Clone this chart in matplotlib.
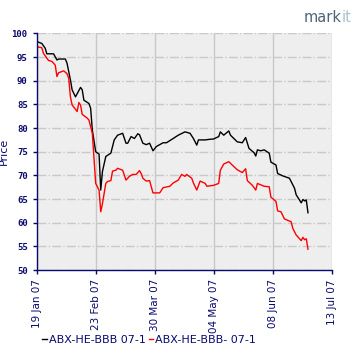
import matplotlib
matplotlib.use("Agg")
import matplotlib.pyplot as plt
import matplotlib.dates as mdates
from matplotlib.transforms import offset_copy
import numpy as np

# day offsets from 19 Jan 2007 and prices
start = np.datetime64("2007-01-19")

blk_days = [0, 3, 5, 6, 10, 12, 13, 17, 18, 20, 21, 23, 26, 27, 28, 31, 32, 33, 35, 37,
            38, 39, 41, 44, 46, 48, 51, 53, 54, 56, 58, 60, 61, 63, 65, 67, 69, 71, 75, 77,
            81, 84, 88, 91, 93, 95, 96, 100, 102, 105, 108, 109, 111, 114, 115, 117, 119,
            122, 124, 126, 129, 130, 131, 133, 135, 138, 139, 142, 143, 146, 150, 153, 154,
            157, 158, 159, 160, 161]
blk_vals = [98.3, 97.9, 96.9, 95.7, 95.7, 94.4, 94.6, 94.6, 93.7, 90.2, 88.1, 86.6, 88.6,
            88.1, 85.9, 85.2, 84.2, 79.6, 75.0, 74.5, 66.9, 70.8, 74.0, 74.7, 77.5, 78.5,
            78.9, 76.8, 76.8, 78.2, 77.8, 78.8, 78.6, 76.8, 76.5, 76.8, 75.2, 76.1, 76.9,
            76.9, 77.8, 78.5, 79.2, 78.9, 77.8, 76.4, 77.5, 77.5, 77.6, 77.7, 78.2, 79.2,
            78.5, 79.4, 78.5, 77.8, 77.1, 76.9, 78.0, 75.7, 74.8, 74.1, 75.4, 75.2, 75.4,
            74.7, 72.8, 72.2, 70.4, 69.9, 69.4, 67.3, 65.9, 64.2, 64.9, 64.6, 64.8, 62.1]

red_days = [0, 3, 4, 7, 9, 11, 12, 13, 16, 18, 19, 20, 21, 24, 25, 26, 27, 30, 31, 33,
            35, 37, 38, 39, 41, 42, 44, 45, 47, 48, 51, 53, 55, 57, 59, 61, 62, 63, 65, 67,
            69, 73, 75, 79, 81, 84, 86, 88, 89, 92, 93, 95, 97, 100, 101, 105, 108, 109,
            111, 114, 116, 119, 122, 124, 125, 128, 130, 131, 135, 138, 139, 142, 143, 145,
            147, 151, 152, 154, 157, 158, 159, 160, 161]
red_vals = [97.2, 97.0, 95.8, 94.3, 94.1, 93.3, 90.9, 91.7, 92.1, 91.5, 90.5, 86.6, 84.9,
            83.5, 85.4, 84.9, 82.9, 82.1, 81.7, 78.9, 68.3, 66.9, 62.3, 64.0, 68.3, 68.7,
            68.9, 70.9, 71.1, 71.5, 71.1, 69.0, 69.8, 70.2, 70.2, 71.0, 70.4, 69.4, 68.8,
            68.9, 66.3, 66.3, 67.4, 67.7, 68.4, 69.0, 70.2, 69.8, 70.2, 69.4, 68.4, 66.9,
            68.8, 68.3, 67.7, 67.9, 68.3, 71.1, 72.4, 72.9, 72.2, 71.2, 70.6, 71.4, 68.9,
            67.9, 66.9, 68.3, 67.7, 67.6, 65.4, 64.5, 62.5, 62.3, 60.8, 60.2, 58.8, 57.4,
            56.2, 56.9, 56.4, 56.6, 54.4]

tick_dates = ["2007-01-19", "2007-02-23", "2007-03-30", "2007-05-04", "2007-06-08", "2007-07-13"]
y_ticks = [50, 55, 60, 65, 70, 75, 80, 85, 90, 95, 100]

navy = "#0a0a6e"

blk_x = (start + np.array(blk_days, dtype="timedelta64[D]")).astype("datetime64[ms]").astype(object)
red_x = (start + np.array(red_days, dtype="timedelta64[D]")).astype("datetime64[ms]").astype(object)
ticks = np.array(tick_dates, dtype="datetime64[D]").astype("datetime64[ms]").astype(object)

fig = plt.figure(figsize=(3.6, 3.6), dpi=100)
ax = fig.add_axes([0.102, 0.25, 0.819, 0.657])
ax.set_facecolor("#eeeeee")

ax.plot(blk_x, blk_vals, color="black", lw=1, label="ABX-HE-BBB 07-1")
ax.plot(red_x, red_vals, color="red", lw=1, label="ABX-HE-BBB- 07-1")

ax.set_xlim(ticks[0], ticks[-1])
ax.set_ylim(50, 100)
ax.set_xticks(ticks)
ax.xaxis.set_major_formatter(mdates.DateFormatter("%d %b %y"))
ax.set_yticks(y_ticks)

ax.grid(axis="y", color="#c8c8c8", ls="-.", lw=1)
ax.grid(axis="x", color="#c8c8c8", ls="-", lw=1)
ax.set_axisbelow(True)

for s in ["top", "right"]:
    ax.spines[s].set_visible(False)
for s in ["left", "bottom"]:
    ax.spines[s].set_color(navy)
    ax.spines[s].set_linewidth(1)

ax.tick_params(colors=navy, length=3, width=1, labelsize=6.5)
for lbl in ax.get_yticklabels():
    lbl.set_family("DejaVu Sans Mono")
    lbl.set_fontweight("bold")
for lbl in ax.get_xticklabels():
    lbl.set_rotation(90)
    lbl.set_fontsize(7.5)

ax.set_ylabel("Price", color=navy, fontsize=8)
ax.yaxis.set_label_coords(-0.095, 0.5)

fig.legend(loc="lower left", bbox_to_anchor=(0.09, 0.015), ncol=2, frameon=False,
           handlelength=0.4, handletextpad=0.15, columnspacing=0.3,
           prop={"size": 8}, labelcolor=navy)

# markit logo, two-tone
t1 = fig.text(0.843, 0.93, "mark", color="#4c6478", fontsize=10.5, ha="left", va="bottom")
fig.canvas.draw()
w = t1.get_window_extent().width
fig.text(0.843, 0.93, "it", color="#aac3d2", fontsize=10.5, ha="left", va="bottom",
         transform=offset_copy(fig.transFigure, fig=fig, x=w, y=0, units="dots"))

fig.savefig("out.png", dpi=100)
